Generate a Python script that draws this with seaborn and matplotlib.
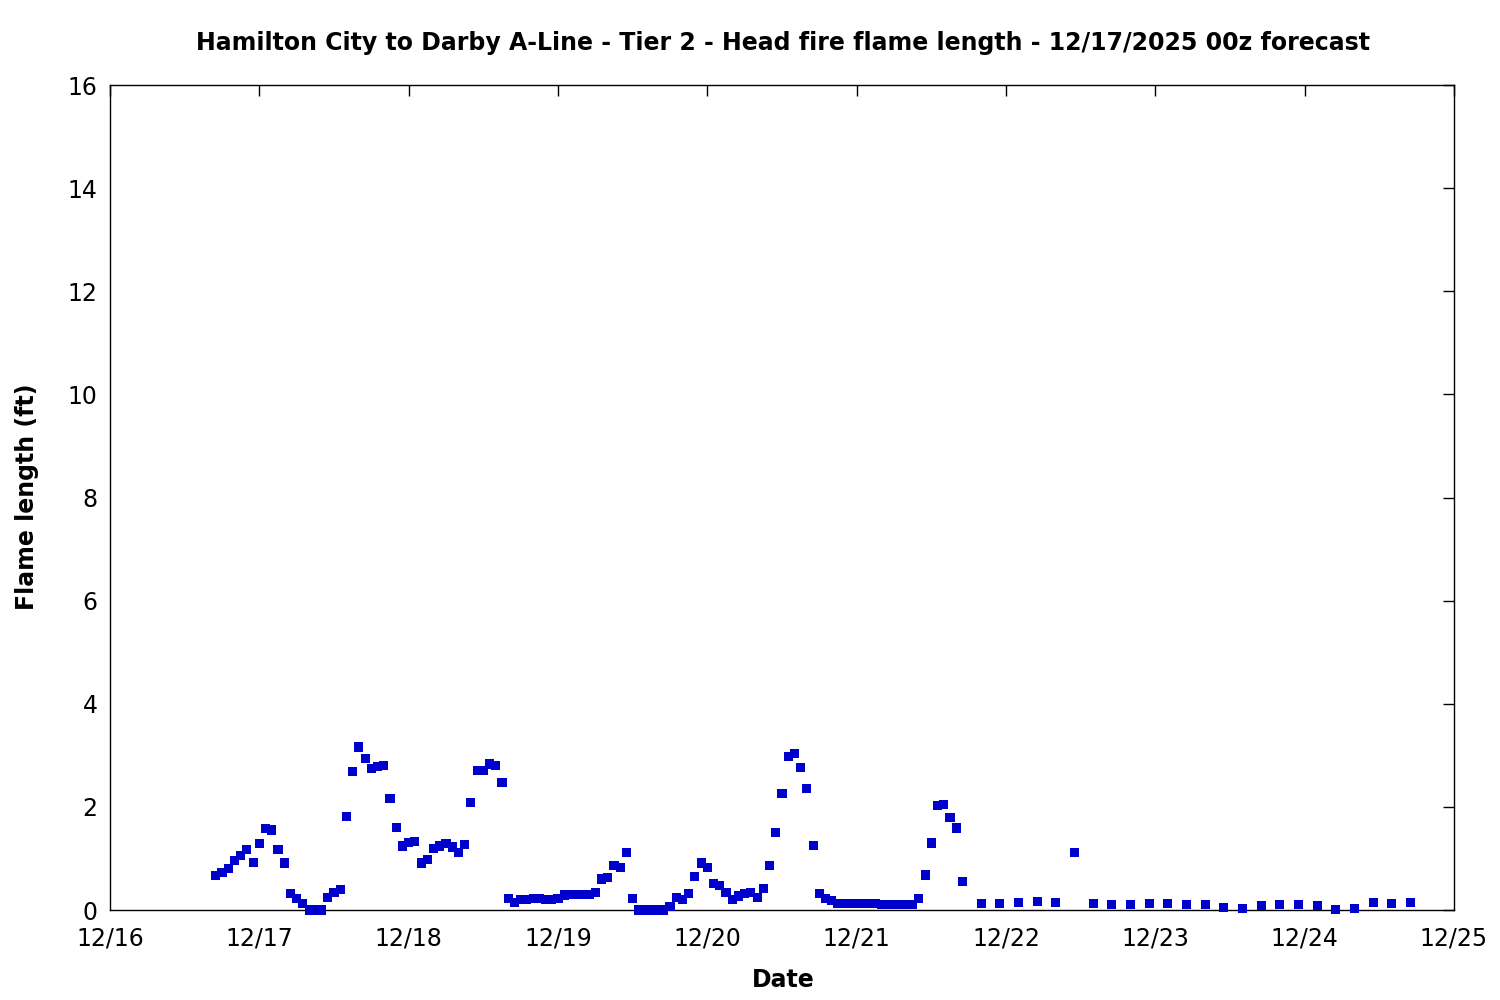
import numpy as np
import pandas as pd
import matplotlib
matplotlib.use("Agg")
import matplotlib.pyplot as plt
import matplotlib.dates as mdates
import seaborn as sns

# ---- data ----
hourly_start = "2025-12-16 17:00"
hourly_values = [
    # 12/16 17z-23z
    0.67, 0.73, 0.81, 0.96, 1.06, 1.18, 0.92,
    # 12/17
    1.29, 1.58, 1.55, 1.18, 0.91, 0.32, 0.23, 0.13, 0.00, 0.00, 0.00, 0.25,
    0.34, 0.40, 1.82, 2.69, 3.16, 2.94, 2.75, 2.79, 2.81, 2.17, 1.60, 1.24,
    # 12/18
    1.31, 1.33, 0.91, 0.98, 1.20, 1.24, 1.29, 1.22, 1.12, 1.27, 2.09, 2.71,
    2.71, 2.83, 2.81, 2.48, 0.23, 0.15, 0.21, 0.21, 0.23, 0.23, 0.21, 0.21,
    # 12/19
    0.23, 0.29, 0.30, 0.30, 0.30, 0.30, 0.34, 0.60, 0.63, 0.87, 0.83, 1.12,
    0.23, 0.00, 0.00, 0.00, 0.00, 0.00, 0.07, 0.25, 0.21, 0.32, 0.65, 0.91,
    # 12/20
    0.83, 0.52, 0.48, 0.34, 0.21, 0.27, 0.32, 0.34, 0.25, 0.42, 0.87, 1.51,
    2.26, 2.98, 3.04, 2.77, 2.36, 1.25, 0.32, 0.23, 0.19, 0.13, 0.13, 0.13,
    # 12/21 00z-17z
    0.13, 0.13, 0.13, 0.13, 0.11, 0.11, 0.11, 0.11, 0.11, 0.11, 0.23, 0.68,
    1.30, 2.02, 2.04, 1.80, 1.59, 0.56,
]
three_hourly_start = "2025-12-21 20:00"
three_hourly_values = [
    0.13, 0.13, 0.15, 0.17, 0.15, 1.12, 0.13, 0.11, 0.11, 0.13, 0.13, 0.11,
    0.11, 0.05, 0.03, 0.08, 0.11, 0.11, 0.08, 0.01, 0.03, 0.15, 0.13, 0.15,
]
title = "Hamilton City to Darby A-Line - Tier 2 - Head fire flame length - 12/17/2025 00z forecast"
x_label = "Date"
y_label = "Flame length (ft)"
x_start = "2025-12-16"
x_end = "2025-12-25"
y_ticks = [0, 2, 4, 6, 8, 10, 12, 14, 16]

times = list(pd.date_range(hourly_start, periods=len(hourly_values), freq="h")) + \
        list(pd.date_range(three_hourly_start, periods=len(three_hourly_values), freq="3h"))
df = pd.DataFrame({"time": times, "flame": hourly_values + three_hourly_values})

# ---- style ----
sns.set_style("white")
plt.rcParams["font.family"] = ["DejaVu Sans"]
plt.rcParams["text.color"] = "black"
plt.rcParams["axes.labelcolor"] = "black"
plt.rcParams["xtick.color"] = "black"
plt.rcParams["ytick.color"] = "black"

fig = plt.figure(figsize=(15, 10), dpi=100)
ax = fig.add_axes([110 / 1500, 90 / 1000, (1454 - 110) / 1500, (910 - 85) / 1000])

sns.scatterplot(data=df, x="time", y="flame", marker="s", s=44, color="#0000CC",
                edgecolor="none", linewidth=0, ax=ax, zorder=3, clip_on=False)

ax.set_xlim(pd.Timestamp(x_start), pd.Timestamp(x_end))
ax.set_ylim(0, 16)
ax.set_yticks(y_ticks)
ax.xaxis.set_major_locator(mdates.DayLocator())
ax.xaxis.set_major_formatter(mdates.DateFormatter("%m/%d"))

for sp in ax.spines.values():
    sp.set_visible(True)
    sp.set_color("black")
    sp.set_linewidth(1.0)
    sp.set_zorder(2)

ax.tick_params(axis="both", which="major", direction="in", length=8, width=1.0,
               top=True, right=True, labelsize=17, colors="black",
               labelcolor="black", pad=9)
ax.tick_params(axis="x", pad=12)

ax.set_xlabel("")
ax.set_ylabel("")
fig.text(783 / 1500, 1 - 43 / 1000, title, ha="center", va="center",
         fontsize=17, fontweight="bold", color="black")
fig.text(783 / 1500, 1 - 980 / 1000, x_label, ha="center", va="center",
         fontsize=17, fontweight="bold", color="black")
fig.text(27 / 1500, 1 - 497 / 1000, y_label, ha="center", va="center",
         fontsize=17, fontweight="bold", rotation=90, color="black")

fig.savefig("out.png", dpi=100, facecolor="white")
